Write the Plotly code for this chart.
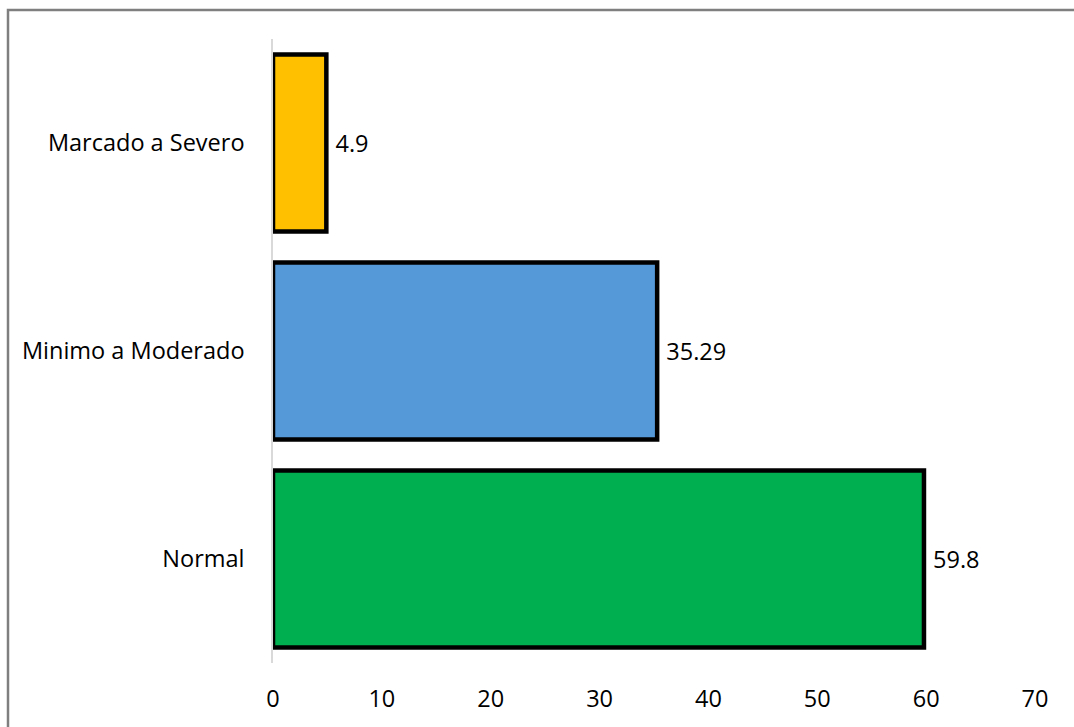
import plotly.graph_objects as go

categories = ["Normal", "Minimo a Moderado", "Marcado a Severo"]
values = [59.8, 35.29, 4.9]
labels = ["59.8", "35.29", "4.9"]
colors = ["#00B050", "#5699D8", "#FFC000"]
x_ticks = [0, 10, 20, 30, 40, 50, 60, 70]

W, H = 1074, 727
L, R, T, B = 273, 39, 39, 64
pw, ph = W - L - R, H - T - B
FONT = "Open Sans, Lato, sans-serif"
FS = 23.5

fig = go.Figure(go.Bar(
    y=categories, x=values, orientation="h",
    marker=dict(color=colors, line=dict(color="black", width=4.5)),
    text=[" " + t for t in labels], textposition="outside",
    textfont=dict(family=FONT, size=FS, color="#000000"),
    cliponaxis=False,
))

def px_x(p):
    return (p - L) / pw

def px_y(p):
    return (H - B - p) / ph

fig.update_layout(
    width=W, height=H,
    margin=dict(l=L, r=R, t=T, b=B),
    plot_bgcolor="white", paper_bgcolor="white",
    bargap=0.15, showlegend=False,
    font=dict(family=FONT, size=FS, color="#000000"),
    xaxis=dict(range=[0, 70], tickvals=x_ticks, showgrid=False, zeroline=False,
               showline=False, ticks="", ticklabelstandoff=19, fixedrange=True),
    yaxis=dict(categoryorder="array", categoryarray=categories, showgrid=False,
               zeroline=False, showline=True, linecolor="#D9D9D9", linewidth=1.5,
               ticks="", ticklabelstandoff=22),
    shapes=[dict(type="rect", xref="paper", yref="paper",
                 x0=px_x(8), x1=px_x(1090), y0=px_y(740), y1=px_y(10),
                 line=dict(color="#7F7F7F", width=2.5), fillcolor="rgba(0,0,0,0)",
                 layer="above")],
)

fig.write_html("out.html")
